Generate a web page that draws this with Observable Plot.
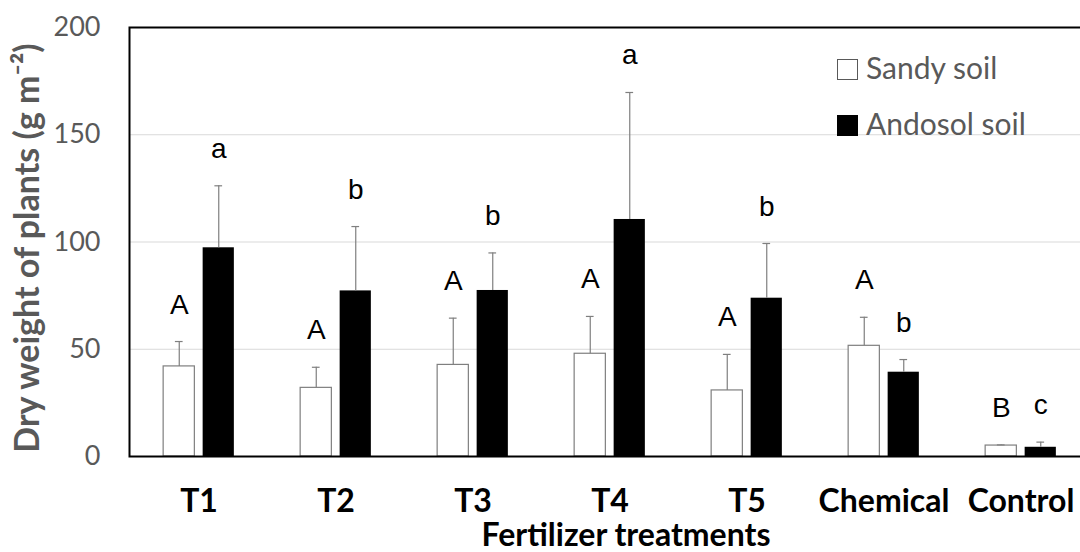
<!DOCTYPE html>
<html>
<head>
<meta charset="utf-8">
<script src="https://cdn.jsdelivr.net/npm/d3@7"></script>
<script src="https://cdn.jsdelivr.net/npm/@observablehq/plot@0.6"></script>
<style>
  html, body { margin: 0; padding: 0; background: #fff; }
  #wrap { position: relative; width: 1080px; height: 552px; overflow: hidden; }
  #legend { position: absolute; left: 837px; top: 41px; font-family: Lato, "Open Sans", sans-serif; font-size: 30px; color: #595959; }
  .item { display: flex; align-items: center; height: 56px; }
  .sw { width: 21px; height: 21px; box-sizing: border-box; margin-right: 8px; }
  .item span { position: relative; top: -2px; }
</style>
</head>
<body>
<div id="wrap"></div>
<script>
const treatments = ["T1", "T2", "T3", "T4", "T5", "Chemical", "Control"];
const soils = ["Sandy soil", "Andosol soil"];
const sandyMean = [42.0, 32.0, 42.7, 47.9, 30.8, 51.6, 5.1];
const sandySE = [11.6, 9.6, 21.8, 17.4, 16.8, 13.3, 0.3];
const andosolMean = [97.3, 77.2, 77.4, 110.5, 73.8, 39.3, 4.3];
const andosolSE = [28.9, 30.0, 17.5, 59.2, 25.5, 5.9, 2.4];
const sandyLetters = ["A", "A", "A", "A", "A", "A", "B"];
const andosolLetters = ["a", "b", "b", "a", "b", "b", "c"];
const yTicks = [0, 50, 100, 150, 200];
const gridTicks = [50, 100, 150];
const yLabel = "Dry weight of plants (g m\u207B\u00B2)";
const xLabel = "Fertilizer treatments";

const sandy = treatments.map((t, i) => ({treatment: t, soil: soils[0], value: sandyMean[i], se: sandySE[i], letter: sandyLetters[i]}));
const andosol = treatments.map((t, i) => ({treatment: t, soil: soils[1], value: andosolMean[i], se: andosolSE[i], letter: andosolLetters[i]}));

const W = 1080, H = 552;
const mL = 129, mR = -10, mT = 27, mB = 96;
const step = (W - mL - mR) / treatments.length;
const BAR = 31.5, GAP = 8, CAP = 8;
const half = step / 2;
const off = GAP / 2 + BAR / 2;
const inS = {insetLeft: half - GAP / 2 - BAR, insetRight: half + GAP / 2};
const inA = {insetLeft: half + GAP / 2, insetRight: half - GAP / 2 - BAR};
const capS = {insetLeft: half - off - CAP / 2, insetRight: half + off - CAP / 2};
const capA = {insetLeft: half + off - CAP / 2, insetRight: half - off - CAP / 2};
const errColor = "#7f7f7f";
const errTop = d => d.value + d.se;

const chart = Plot.plot({
  width: W, height: H,
  marginLeft: mL, marginRight: mR, marginTop: mT, marginBottom: mB,
  style: {background: "white", overflow: "hidden"},
  x: {domain: treatments, padding: 0},
  y: {domain: [0, 200]},
  marks: [
    Plot.ruleY(gridTicks, {stroke: "#d9d9d9", strokeWidth: 1}),
    Plot.barY(sandy, {x: "treatment", y: "value", fill: "white", stroke: "#7f7f7f", strokeWidth: 1.2, ...inS}),
    Plot.barY(andosol, {x: "treatment", y: "value", fill: "black", ...inA}),
    Plot.ruleX(sandy, {x: "treatment", y1: "value", y2: errTop, dx: -off, stroke: errColor, strokeWidth: 1.2}),
    Plot.ruleX(andosol, {x: "treatment", y1: "value", y2: errTop, dx: off, stroke: errColor, strokeWidth: 1.2}),
    Plot.tickY(sandy, {x: "treatment", y: errTop, stroke: errColor, strokeWidth: 1.2, ...capS}),
    Plot.tickY(andosol, {x: "treatment", y: errTop, stroke: errColor, strokeWidth: 1.2, ...capA}),
    Plot.text(sandy, {x: "treatment", y: errTop, text: "letter", dx: -off, dy: -28, lineAnchor: "bottom", fontSize: 28, fontFamily: "Liberation Sans, Arial, sans-serif", fill: "black"}),
    Plot.text(andosol, {x: "treatment", y: errTop, text: "letter", dx: off, dy: -28, lineAnchor: "bottom", fontSize: 28, fontFamily: "Liberation Sans, Arial, sans-serif", fill: "black"}),
    Plot.frame({stroke: "black", strokeWidth: 2}),
    Plot.axisY({ticks: yTicks, tickSize: 0, tickPadding: 29, fontSize: 27, fill: "#595959", fontFamily: "Lato, sans-serif", label: null}),
    Plot.axisX({tickSize: 0, tickPadding: 33, fontSize: 32, fontWeight: "bold", fill: "black", fontFamily: "Lato, sans-serif", label: null}),
    Plot.text([yLabel], {frameAnchor: "left", textAnchor: "middle", lineAnchor: "middle", text: d => d, rotate: -90, dx: -101, dy: 6, fontSize: 34, fontWeight: "bold", fill: "#595959", fontFamily: "Lato, sans-serif"}),
    Plot.text([xLabel], {frameAnchor: "bottom", textAnchor: "middle", lineAnchor: "bottom", text: d => d, dx: 16, dy: 89, fontSize: 32, fontWeight: "bold", fill: "black", fontFamily: "Lato, sans-serif"})
  ]
});

const wrap = document.getElementById("wrap");
wrap.appendChild(chart);
const legend = document.createElement("div");
legend.id = "legend";
legend.innerHTML =
  `<div class="item"><div class="sw" style="background:#fff;border:1.5px solid #595959"></div><span>${soils[0]}</span></div>` +
  `<div class="item"><div class="sw" style="background:#000"></div><span>${soils[1]}</span></div>`;
wrap.appendChild(legend);
</script>
</body>
</html>
